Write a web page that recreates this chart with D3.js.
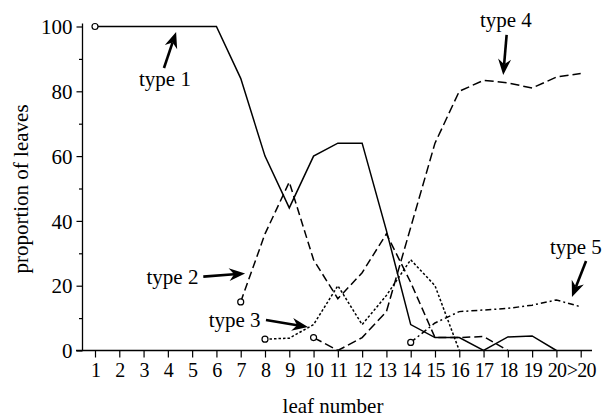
<!DOCTYPE html>
<html>
<head>
<meta charset="utf-8">
<script src="https://cdn.jsdelivr.net/npm/d3@7"></script>
<style>
  body { margin: 0; background: #fff; }
  svg text { font-family: "Liberation Serif", "Times New Roman", serif; fill: #000; }
</style>
</head>
<body>
<div id="main"></div>
<script>
// leaf number categories
const leafLabels = ["1", "2", "3", "4", "5", "6", "7", "8", "9", "10", "11", "12", "13", "14", "15", "16", "17", "18", "19", "20", ">20"];

// series values: [index into leafLabels, proportion]
const type1 = [[0, 100], [1, 100], [2, 100], [3, 100], [4, 100], [5, 100], [6, 84], [7, 60], [8, 44], [9, 60], [10, 64], [11, 64], [12, 37], [13, 8], [14, 4], [15, 4], [16, 0], [17, 4.2], [18, 4.5], [19, 0]];
const type2 = [[6, 15], [7, 36], [8, 52], [9, 28], [10, 16], [11, 24], [12, 36], [13, 21], [14, 4], [15, 4], [16, 4.3], [17, 0]];
const type3 = [[7, 3.5], [8, 3.8], [9, 8], [10, 20], [11, 8], [12, 17], [13, 28], [14, 20], [15, 0]];
const type4 = [[9, 4], [10, 0], [11, 4], [12, 12], [13, 38], [14, 64], [15, 80], [16, 83.4], [17, 82.6], [18, 81], [19, 84.4], [20, 85.5]];
const type5 = [[13, 2.5], [14, 8.5], [15, 12], [16, 12.5], [17, 13], [18, 14], [19, 15.6], [20, 13.5]];

const yMajor = [0, 20, 40, 60, 80, 100];
const yMinor = [10, 30, 50, 70, 90];

// annotations in data space: text position, arrow start, arrow tip
const notes = [
    {label: "type 1", tx: 2.88, ty: 81.6, x1: 2.84, y1: 87.2, x2: 3.34, y2: 98.3},
    {label: "type 2", tx: 3.19, ty: 20.5, x1: 4.46, y1: 22.8, x2: 6.18, y2: 23.8},
    {label: "type 3", tx: 5.75, ty: 7.3, x1: 7.04, y1: 9.4, x2: 8.77, y2: 7.25},
    {label: "type 4", tx: 16.92, ty: 99.8, x1: 16.95, y1: 97.4, x2: 16.81, y2: 85.0},
    {label: "type 5", tx: 19.8, ty: 29.8, x1: 20.22, y1: 27.6, x2: 19.64, y2: 16.5}
];

const series = [
    {data: type1, dash: null},
    {data: type2, dash: "8,4"},
    {data: type3, dash: "2.5,2"},
    {data: type4, dash: "9,4"},
    {data: type5, dash: "6,3,2,3"}
];

const width = 606, height = 419;
const fontSize = '21px';

const svg = d3.select('#main').append('svg')
    .attr('width', width)
    .attr('height', height);

const x = d3.scaleLinear()
    .domain([0, leafLabels.length - 1])
    .range([95, 580.7]);

const y = d3.scaleLinear()
    .domain([0, 100])
    .range([350.5, 26.5]);

const axisX0 = 82.5;

// y axis
const yAxis = svg.append('g')
    .attr('transform', 'translate(' + axisX0 + ',0)')
    .call(d3.axisLeft(y).tickValues(yMajor).tickSize(6).tickPadding(4).tickSizeOuter(0));
yAxis.select('.domain').remove();
yAxis.selectAll('text').style('font-size', fontSize).attr('dy', '0.34em');

svg.append('g')
    .attr('transform', 'translate(' + axisX0 + ',0)')
    .call(d3.axisLeft(y).tickValues(yMinor).tickSize(3.5).tickFormat(''))
    .select('.domain').remove();

svg.append('line')
    .attr('x1', axisX0).attr('x2', axisX0)
    .attr('y1', y(100) - 3).attr('y2', y(0))
    .attr('stroke', '#000').attr('stroke-width', 1.3);

// x axis
const xAxis = svg.append('g')
    .attr('transform', 'translate(0,' + y(0) + ')')
    .call(d3.axisBottom(x).tickValues(d3.range(leafLabels.length))
        .tickFormat(i => leafLabels[i]).tickSize(7).tickPadding(5).tickSizeOuter(0));
xAxis.select('.domain').remove();
xAxis.selectAll('text')
    .style('font-size', '20px')
    .style('letter-spacing', '-0.8px');

svg.append('line')
    .attr('x1', 76).attr('x2', 592)
    .attr('y1', y(0)).attr('y2', y(0))
    .attr('stroke', '#000').attr('stroke-width', 1.3);

svg.selectAll('.tick line').attr('stroke', '#000').attr('stroke-width', 1.2);

// axis titles
svg.append('text')
    .attr('text-anchor', 'middle')
    .attr('x', 333)
    .attr('y', 413)
    .style('font-size', fontSize)
    .text('leaf number');

svg.append('text')
    .attr('text-anchor', 'middle')
    .attr('transform', 'translate(28,189) rotate(-90)')
    .style('font-size', fontSize)
    .text('proportion of leaves');

// lines
const line = d3.line()
    .x(d => x(d[0]))
    .y(d => y(d[1]));

series.forEach(function (s) {
    svg.append('path')
        .datum(s.data)
        .attr('d', line)
        .attr('fill', 'none')
        .attr('stroke', '#000')
        .attr('stroke-width', 1.5)
        .attr('stroke-dasharray', s.dash);

    svg.append('circle')
        .attr('cx', x(s.data[0][0]))
        .attr('cy', y(s.data[0][1]))
        .attr('r', 3)
        .attr('fill', '#fff')
        .attr('stroke', '#000')
        .attr('stroke-width', 1.2);
});

// annotations
notes.forEach(function (n) {
    svg.append('text')
        .attr('text-anchor', 'middle')
        .attr('x', x(n.tx))
        .attr('y', y(n.ty))
        .style('font-size', fontSize)
        .text(n.label);

    const px1 = x(n.x1), py1 = y(n.y1), px2 = x(n.x2), py2 = y(n.y2);
    const ang = Math.atan2(py2 - py1, px2 - px1);
    const len = 16, half = 6.5, notch = 11;
    const ca = Math.cos(ang), sa = Math.sin(ang);
    const bx = px2 - len * ca, by = py2 - len * sa;
    const nx = px2 - notch * ca, ny = py2 - notch * sa;

    svg.append('line')
        .attr('x1', px1).attr('y1', py1)
        .attr('x2', nx).attr('y2', ny)
        .attr('stroke', '#000')
        .attr('stroke-width', 2.6);

    svg.append('path')
        .attr('d', 'M' + px2 + ',' + py2 +
            'L' + (bx - half * sa) + ',' + (by + half * ca) +
            'L' + nx + ',' + ny +
            'L' + (bx + half * sa) + ',' + (by - half * ca) + 'Z')
        .attr('fill', '#000');
});
</script>
</body>
</html>
